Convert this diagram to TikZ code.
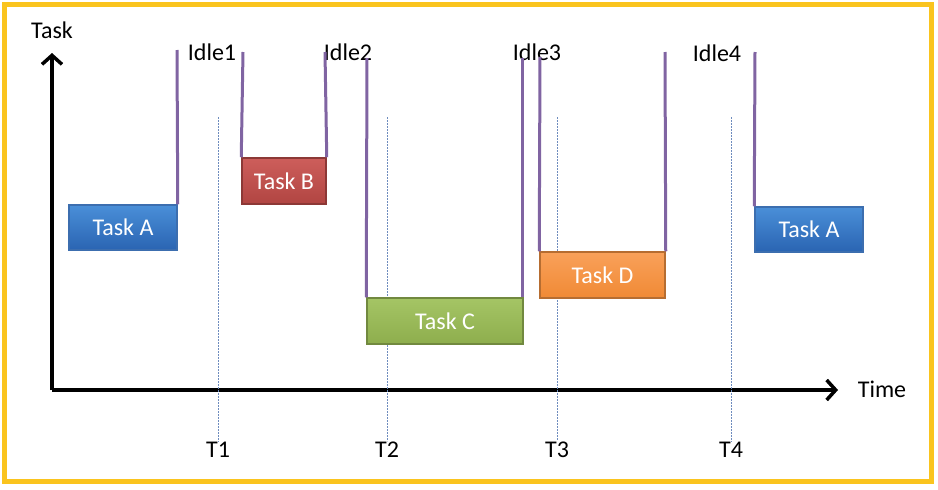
\documentclass[tikz,border=0pt]{standalone}
\usepackage{fontspec}
\setmainfont{Carlito}
\usetikzlibrary{arrows.meta}
\definecolor{frameyellow}{RGB}{250,196,30}
\definecolor{idlepurple}{RGB}{128,100,162}
\definecolor{tickblue}{RGB}{110,140,190}
\tikzset{
  taskbox/.style={rectangle, draw, line width=1.5pt, text=white, inner sep=0pt,
    font=\fontsize{24}{28}\selectfont},
  lbl/.style={inner sep=1pt, font=\fontsize{24}{28}\selectfont},
  idle/.style={draw=idlepurple, line width=3pt},
  tick/.style={draw=tickblue, line width=0.8pt, dash pattern=on 1.5pt off 1.5pt},
  axis/.style={line width=4pt, -{Straight Barb[length=9pt,width=20pt,line width=3.5pt]}}
}
\begin{document}
\begin{tikzpicture}[x=1pt,y=-1pt]
\useasboundingbox (0,0) rectangle (938,490);
\draw[frameyellow, line width=5pt] (4,4) rectangle (931,481);
% axes
\coordinate (origin) at (52,390);
\coordinate (ytip) at (52,53);
\coordinate (xtip) at (838,390);
\node[lbl] (tasklbl) at (52,30) {Task};
\node[lbl] (timelbl) at (882,389) {Time};
\draw[axis] (origin) -- (ytip);
\draw[axis] (origin) -- (xtip);
% time marks
\node[lbl] (T1) at (218,450) {T1};
\node[lbl] (T2) at (387,450) {T2};
\node[lbl] (T3) at (557,450) {T3};
\node[lbl] (T4) at (731,450) {T4};
\coordinate (t1top) at (218,117);
\coordinate (t2top) at (387,117);
\coordinate (t3top) at (557,117);
\coordinate (t4top) at (731,117);
\draw[tick] (t1top) -- (T1.north);
\draw[tick] (t2top) -- (T2.north);
\draw[tick] (t3top) -- (T3.north);
\draw[tick] (t4top) -- (T4.north);
% tasks
\node[taskbox, draw={rgb,255:red,60;green,110;blue,175}, top color={rgb,255:red,74;green,143;blue,216}, bottom color={rgb,255:red,42;green,100;blue,178}, minimum width=108pt, minimum height=45pt] (taskA) at (123,227.5) {Task A};
\node[taskbox, draw={rgb,255:red,140;green,56;blue,54}, top color={rgb,255:red,205;green,94;blue,91}, bottom color={rgb,255:red,177;green,69;blue,66}, minimum width=84pt, minimum height=46pt] (taskB) at (284,181) {Task B};
\node[taskbox, draw={rgb,255:red,113;green,137;blue,63}, top color={rgb,255:red,165;green,197;blue,101}, bottom color={rgb,255:red,142;green,174;blue,77}, minimum width=156pt, minimum height=46pt] (taskC) at (445,321) {Task C};
\node[taskbox, draw={rgb,255:red,182;green,109;blue,49}, top color={rgb,255:red,249;green,161;blue,90}, bottom color={rgb,255:red,240;green,138;blue,53}, minimum width=125pt, minimum height=46pt] (taskD) at (602.5,275) {Task D};
\node[taskbox, draw={rgb,255:red,60;green,110;blue,175}, top color={rgb,255:red,74;green,143;blue,216}, bottom color={rgb,255:red,42;green,100;blue,178}, minimum width=108pt, minimum height=45pt] (taskA2) at (809,229.5) {Task A};
% idle labels
\node[lbl] (idle1) at (212,52) {Idle1};
\node[lbl] (idle2) at (348,52) {Idle2};
\node[lbl] (idle3) at (537,52) {Idle3};
\node[lbl] (idle4) at (717,53) {Idle4};
% switch lines
\coordinate (s1) at (177,50);
\coordinate (s2) at (243,52);
\coordinate (s3) at (325,52);
\coordinate (s4) at (367,58);
\coordinate (s5) at (522,58);
\coordinate (s6) at (540,57);
\coordinate (s7) at (665,52);
\coordinate (s8) at (755,52);
\draw[idle] (s1) -- (taskA.north east);
\draw[idle] (s2) -- (taskB.north west);
\draw[idle] (s3) -- (taskB.north east);
\draw[idle] (s4) -- (taskC.north west);
\draw[idle] (s5) -- (taskC.north east -| s5);
\draw[idle] (s6) -- (taskD.north west);
\draw[idle] (s7) -- (taskD.north east);
\draw[idle] (s8) -- (taskA2.north west);
\end{tikzpicture}
\end{document}
